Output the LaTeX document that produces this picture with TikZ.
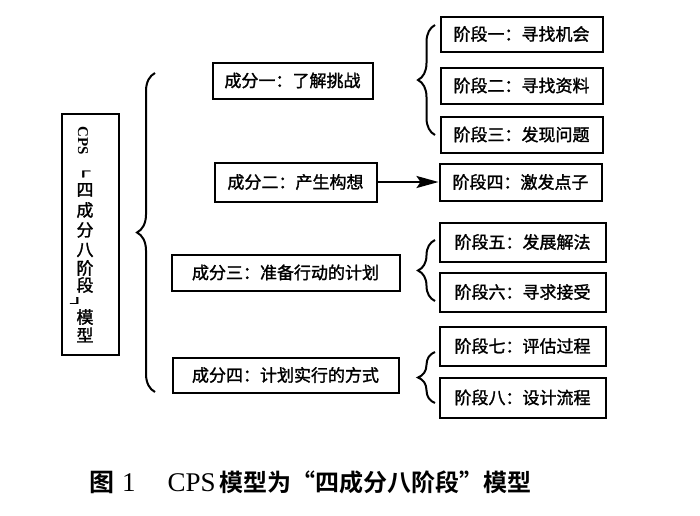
\documentclass[tikz,border=0pt]{standalone}
\usepackage{fontspec}
\newfontfamily\cjk{Noto Sans CJK SC}[FakeBold=1.5, BoldFont={Noto Sans CJK SC Bold}]
\newfontfamily\cjkb{Noto Sans CJK SC Bold}
\newfontfamily\tmr{Liberation Serif}
\usetikzlibrary{decorations.pathreplacing, arrows.meta}
\begin{document}
\begin{tikzpicture}[x=1pt,y=-1pt,
  box/.style={draw, line width=2pt, inner sep=0pt, font=\cjk\fontsize{17}{20}\selectfont},
  bracel/.style={decorate, decoration={brace, amplitude=#1}, line width=2pt},
  vch/.style={inner sep=0pt, font=\cjk\fontsize{17}{20}\selectfont}
]
\useasboundingbox[fill=white] (0,0) rectangle (700,515);

% left vertical box
\node[box, minimum width=57pt, minimum height=241pt] (L) at (90,234) {};
\node[inner sep=0pt, rotate=-90, font=\tmr\bfseries\fontsize{15}{15}\selectfont] (lcps) at (83,141) {CPS};
\node[vch] (lq1) at (78.5,175) {\scalebox{1.5}[0.6]{「}};
\foreach \ch/\yy/\nm in {四/190/a, 成/210/b, 分/230/c, 八/250/d, 阶/268/e, 段/285/f, 模/317/g, 型/335/h}
  \node[vch] (lc\nm) at (85,\yy) {\ch};
\node[vch] (lq2) at (82,300.5) {\scalebox{1.5}[0.6]{」}};

% components
\node[box, minimum width=160pt, minimum height=36pt] (C1) at (292.5,80.5) {成分一：了解挑战};
\node[box, minimum width=162pt, minimum height=39pt] (C2) at (295.5,182) {成分二：产生构想};
\node[box, minimum width=228pt, minimum height=36pt] (C3) at (285.5,272.5) {成分三：准备行动的计划};
\node[box, minimum width=226pt, minimum height=35pt] (C4) at (285.5,375) {成分四：计划实行的方式};

% stages
\node[box, minimum width=162pt, minimum height=35pt] (S1) at (521.5,34) {阶段一：寻找机会};
\node[box, minimum width=162pt, minimum height=36pt] (S2) at (521.5,85.5) {阶段二：寻找资料};
\node[box, minimum width=162pt, minimum height=36pt] (S3) at (521.5,134.5) {阶段三：发现问题};
\node[box, minimum width=162pt, minimum height=37pt] (S4) at (520.5,182) {阶段四：激发点子};
\node[box, minimum width=166pt, minimum height=39pt] (S5) at (522.5,242) {阶段五：发展解法};
\node[box, minimum width=166pt, minimum height=39pt] (S6) at (522.5,292) {阶段六：寻求接受};
\node[box, minimum width=166pt, minimum height=39pt] (S7) at (522.5,346) {阶段七：评估过程};
\node[box, minimum width=166pt, minimum height=40pt] (S8) at (522.5,397.5) {阶段八：设计流程};

% braces
\draw[bracel=18pt] (155,392) -- (155,73);
\draw[bracel=17pt] (435,135) -- (435,25);
\draw[bracel=17pt] (435,301) -- (435,240);
\draw[bracel=17pt] (435,403) -- (435,352);

% arrow
\draw[line width=2pt, -{Stealth[length=22pt, width=12pt, inset=4pt]}] (C2) -- (S4);

% caption
\node[anchor=base west, inner sep=0pt] (cap) at (89,491)
  {{\cjkb\fontsize{25}{25}\selectfont 图}\hspace{8pt}{\tmr\fontsize{27}{27}\selectfont 1}\hspace{32pt}{\tmr\fontsize{27}{27}\selectfont CPS}\hspace{4pt}{\cjkb\fontsize{24}{24}\selectfont 模型为“四成分八阶段”模型}};
\end{tikzpicture}
\end{document}
